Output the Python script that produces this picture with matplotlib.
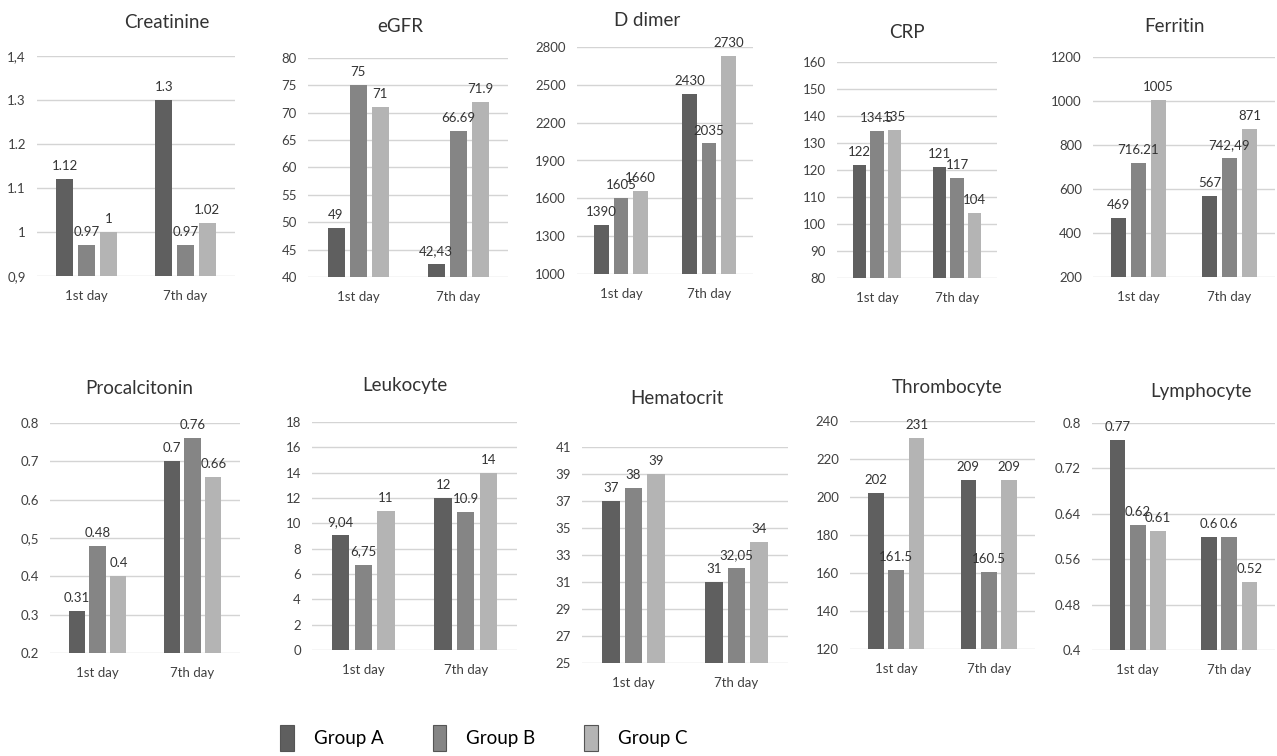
import numpy as np
import matplotlib
matplotlib.use("Agg")
import matplotlib.pyplot as plt
from matplotlib.patches import Patch

plt.rcParams['font.family'] = ['Lato', 'DejaVu Sans']

# ---- data (rows = group A, B, C; columns = 1st day, 7th day) ----
days = ["1st day", "7th day"]
groups = ["Group A", "Group B", "Group C"]
colors = ["#5f5f5f", "#858585", "#b4b4b4"]

creatinine = [[1.12, 1.3], [0.97, 0.97], [1, 1.02]]
egfr = [[49, 42.43], [75, 66.69], [71, 71.9]]
d_dimer = [[1390, 2430], [1605, 2035], [1660, 2730]]
crp = [[122, 121], [134.5, 117], [135, 104]]
ferritin = [[469, 567], [716.21, 742.49], [1005, 871]]
procalcitonin = [[0.31, 0.7], [0.48, 0.76], [0.4, 0.66]]
leukocyte = [[9.04, 12], [6.75, 10.9], [11, 14]]
hematocrit = [[37, 31], [38, 32.05], [39, 34]]
thrombocyte = [[202, 209], [161.5, 160.5], [231, 209]]
lymphocyte = [[0.77, 0.6], [0.62, 0.6], [0.61, 0.52]]

creatinine_ticks = [0.9, 1.0, 1.1, 1.2, 1.3, 1.4]
egfr_ticks = [40, 45, 50, 55, 60, 65, 70, 75, 80]
d_dimer_ticks = [1000, 1300, 1600, 1900, 2200, 2500, 2800]
crp_ticks = [80, 90, 100, 110, 120, 130, 140, 150, 160]
ferritin_ticks = [200, 400, 600, 800, 1000, 1200]
procalcitonin_ticks = [0.2, 0.3, 0.4, 0.5, 0.6, 0.7, 0.8]
leukocyte_ticks = [0, 2, 4, 6, 8, 10, 12, 14, 16, 18]
hematocrit_ticks = [25, 27, 29, 31, 33, 35, 37, 39, 41]
thrombocyte_ticks = [120, 140, 160, 180, 200, 220, 240]
lymphocyte_ticks = [0.4, 0.48, 0.56, 0.64, 0.72, 0.8]

# values the original prints with a decimal comma
comma_values = {42.43, 742.49, 9.04, 6.75, 32.05}
comma_ticks = {("Creatinine", 0.9), ("Creatinine", 1.4), ("Procalcitonin", 0.5)}

panels = [
    ("Creatinine", creatinine, creatinine_ticks),
    ("eGFR", egfr, egfr_ticks),
    ("D dimer", d_dimer, d_dimer_ticks),
    ("CRP", crp, crp_ticks),
    ("Ferritin", ferritin, ferritin_ticks),
    ("Procalcitonin", procalcitonin, procalcitonin_ticks),
    ("Leukocyte", leukocyte, leukocyte_ticks),
    ("Hematocrit", hematocrit, hematocrit_ticks),
    ("Thrombocyte", thrombocyte, thrombocyte_ticks),
    ("Lymphocyte", lymphocyte, lymphocyte_ticks),
]

# layout in pixels: (left, right, top, bottom) of plot area, title centre (x, y)
W, H = 1277, 756
boxes = [
    (37, 235, 56, 276), (308, 508, 58, 277), (577, 753, 47, 274),
    (837, 997, 62, 278), (1093, 1275, 57, 277),
    (50, 240, 423, 653), (312, 517, 422, 650), (582, 788, 447, 663),
    (850, 1035, 421, 649), (1092, 1275, 423, 650),
]
title_pos = [
    (167, 23), (400, 27), (647, 20), (907, 32), (1174, 27),
    (139, 388), (405, 386), (677, 399), (947, 388), (1201, 392),
]

text_col = "#333333"
grid_col = "#d4d4d4"


def fmt(v):
    s = f"{v:g}"
    return s.replace(".", ",") if v in comma_values else s


fig = plt.figure(figsize=(W / 100, H / 100), dpi=100)

offsets = np.array([-0.22, 0.0, 0.22])
width = 0.17
x = np.arange(len(days))

for (name, data, ticks), (l, r, t, b), (tx, ty) in zip(panels, boxes, title_pos):
    ax = fig.add_axes([l / W, 1 - b / H, (r - l) / W, (b - t) / H])
    for gi, (vals, col) in enumerate(zip(data, colors)):
        xs = x + offsets[gi]
        ax.bar(xs, vals, width=width, color=col, zorder=2)
        for xi, v in zip(xs, vals):
            ax.annotate(fmt(v), (xi, v), xytext=(0, 5), textcoords="offset points",
                        ha="center", va="bottom", fontsize=9.5, color=text_col,
                        zorder=3, annotation_clip=False)
    ax.set_xlim(-0.5, 1.5)
    ax.set_ylim(ticks[0], ticks[-1])
    ax.set_yticks(ticks)
    labels = []
    for tv in ticks:
        s = f"{tv:g}"
        if (name, tv) in comma_ticks:
            s = s.replace(".", ",")
        labels.append(s)
    ax.set_yticklabels(labels)
    ax.set_xticks(x)
    ax.set_xticklabels(days)
    ax.tick_params(length=0, labelsize=9.5, colors="#404040")
    ax.tick_params(axis="y", pad=8)
    ax.tick_params(axis="x", pad=10)
    for sp in ax.spines.values():
        sp.set_visible(False)
    ax.yaxis.grid(True, color=grid_col, lw=1, zorder=0)
    ax.set_axisbelow(True)
    fig.text(tx / W, 1 - ty / H, name, ha="center", va="center",
             fontsize=13.5, color=text_col)

handles = [Patch(facecolor=c, edgecolor="#555555", lw=0.8) for c in colors]
fig.legend(handles, groups, loc="center", bbox_to_anchor=(484 / W, 1 - 738 / H),
           ncol=3, frameon=False, fontsize=13.5, handlelength=0.7,
           handleheight=1.7, handletextpad=1.1, columnspacing=2.6)

fig.savefig("out.png", dpi=100)
